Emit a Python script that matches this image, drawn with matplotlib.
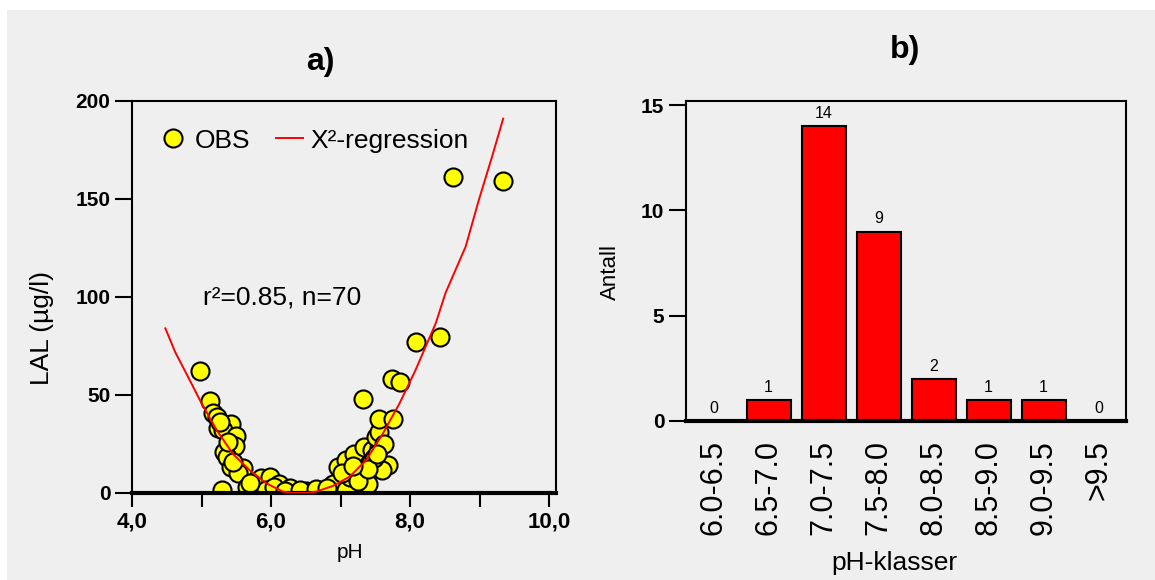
import numpy as np
import matplotlib
matplotlib.use("Agg")
from matplotlib import pyplot as plt
from matplotlib.patches import Rectangle

plt.rcParams['font.family'] = ['Liberation Sans', 'DejaVu Sans']

# a) observations: pH vs LAL (ug/l)
obs_ph = [4.98, 5.12, 5.17, 5.22, 5.43, 5.24, 5.31, 5.50, 5.48, 5.33, 5.36, 5.43,
          5.60, 5.53, 5.65, 5.30, 5.86, 5.98, 5.93, 6.12, 6.27, 6.51, 6.67, 5.38,
          5.45, 5.27, 5.70, 6.05, 6.20,
          6.41, 6.65, 6.89, 7.08, 6.96, 7.08, 7.20, 7.13, 7.34, 7.39, 7.34, 7.46,
          7.56, 7.51, 7.56, 7.44, 7.68, 7.60, 7.56, 7.75, 7.33, 7.74, 7.85, 8.08,
          8.43, 8.62, 9.34, 7.02, 7.25, 7.48, 7.62, 7.40, 6.80, 7.18, 7.52]
obs_lal = [62.4, 47.0, 41.0, 39.0, 35.0, 33.0, 32.0, 29.0, 24.0, 21.0, 18.5, 13.4,
           12.6, 10.0, 3.2, 1.5, 7.7, 8.0, 1.5, 4.6, 2.6, 1.2, 1.5, 26.0,
           16.0, 36.0, 5.0, 3.0, 1.0,
           1.5, 2.0, 4.6, 1.5, 13.4, 16.8, 20.0, 8.3, 9.2, 4.6, 23.6, 22.0,
           22.8, 28.7, 31.3, 16.0, 14.3, 11.7, 37.6, 37.6, 48.0, 58.0, 56.8, 77.0,
           79.4, 161.0, 159.0, 10.0, 6.0, 18.0, 25.0, 12.0, 2.5, 14.0, 20.0]

# a) fitted X^2-regression curve
fit_ph = [4.48, 4.62, 4.83, 5.00, 5.22, 5.45, 5.69, 5.93, 6.17, 6.31, 6.50,
          6.65, 6.89, 7.13, 7.37, 7.61, 7.85, 8.08, 8.37, 8.51, 8.80, 8.99, 9.18, 9.34]
fit_lal = [84.0, 72.0, 57.6, 45.8, 32.0, 20.0, 11.7, 5.0, 0.7, 0.0, 0.0,
           0.7, 3.6, 8.3, 16.8, 30.4, 45.8, 62.8, 86.6, 102.0, 125.7, 149.5, 171.6, 191.0]

# b) histogram of pH classes
classes = ['6.0-6.5', '6.5-7.0', '7.0-7.5', '7.5-8.0', '8.0-8.5', '8.5-9.0', '9.0-9.5', '>9.5']
counts = [0, 1, 14, 9, 2, 1, 1, 0]

bg = '#efefef'
fig = plt.figure(figsize=(11.55, 5.8), dpi=100, facecolor='white')
fig.patches.append(Rectangle((7 / 1155, 0), 1, 570 / 580, transform=fig.transFigure,
                             facecolor=bg, edgecolor='none', zorder=-10))

###### a) ######
ax1 = fig.add_axes([132 / 1155, 87 / 580, 424 / 1155, 392 / 580])
ax1.set_facecolor(bg)
ax1.plot(fit_ph, fit_lal, color='red', lw=1.4, label='X²-regression', zorder=3)
ax1.plot(obs_ph, obs_lal, 'o', ms=13, mfc='#ffff00', mec='black', mew=1.5,
         label='OBS', zorder=2, linestyle='none')
ax1.set_xlim(4, 10.1)
ax1.set_ylim(0, 200)
ax1.set_xticks(np.arange(4, 11, 1))
ax1.set_xticklabels(['4,0', '', '6,0', '', '8,0', '', '10,0'])
ax1.set_yticks([0, 50, 100, 150, 200])
for s in ax1.spines.values():
    s.set_linewidth(1.5)
ax1.spines['bottom'].set_linewidth(3)
ax1.tick_params(axis='both', direction='out', length=12, width=1.5, labelsize=15)
ax1.tick_params(axis='x', length=10, pad=3, labelsize=16)
for lab in ax1.get_xticklabels() + ax1.get_yticklabels():
    lab.set_fontweight('bold')
ax1.text(5.02, 100, 'r²=0.85, n=70', fontsize=19, va='center', ha='left')
h, l = ax1.get_legend_handles_labels()
ax1.legend(h[::-1], l[::-1], loc='upper left', ncol=2, frameon=False, fontsize=19,
           handlelength=1.0, columnspacing=1.0, handletextpad=0.3,
           bbox_to_anchor=(0.01, 0.99))

###### b) ######
ax2 = fig.add_axes([686 / 1155, 159 / 580, 440 / 1155, 320 / 580])
ax2.set_facecolor(bg)
x = np.arange(len(classes))
bars = ax2.bar(x, counts, width=0.8, color='#ff0000', edgecolor='black', linewidth=1.5)
for xi, c in zip(x, counts):
    ax2.text(xi, c + 0.25, str(c), ha='center', va='bottom', fontsize=11.5)
ax2.set_xlim(-0.5, len(classes) - 0.5)
ax2.set_ylim(0, 15.2)
ax2.set_yticks([0, 5, 10, 15])
ax2.set_xticks(x)
ax2.set_xticklabels(classes, rotation=90, fontsize=22)
ax2.tick_params(axis='x', length=0, pad=14)
ax2.tick_params(axis='y', direction='out', length=12, width=1.5, labelsize=15)
for lab in ax2.get_yticklabels():
    lab.set_fontweight('bold')
for s in ax2.spines.values():
    s.set_linewidth(1.5)
ax2.spines['bottom'].set_linewidth(3)

# titles and axis labels placed in pixels
def ftext(px, py, s, **kw):
    fig.text(px / 1155, 1 - py / 580, s, ha='center', va='center', **kw)

ftext(320, 62, 'a)', fontsize=23, fontweight='bold')
ftext(905, 50, 'b)', fontsize=23, fontweight='bold')
ftext(42, 328, 'LAL (µg/l)', fontsize=19, rotation=90)
ftext(610, 272, 'Antall', fontsize=16, rotation=90)
ftext(350, 553, 'pH', fontsize=15)
ftext(894, 563, 'pH-klasser', fontsize=19)

fig.savefig('out.png', dpi=100, facecolor='white')
